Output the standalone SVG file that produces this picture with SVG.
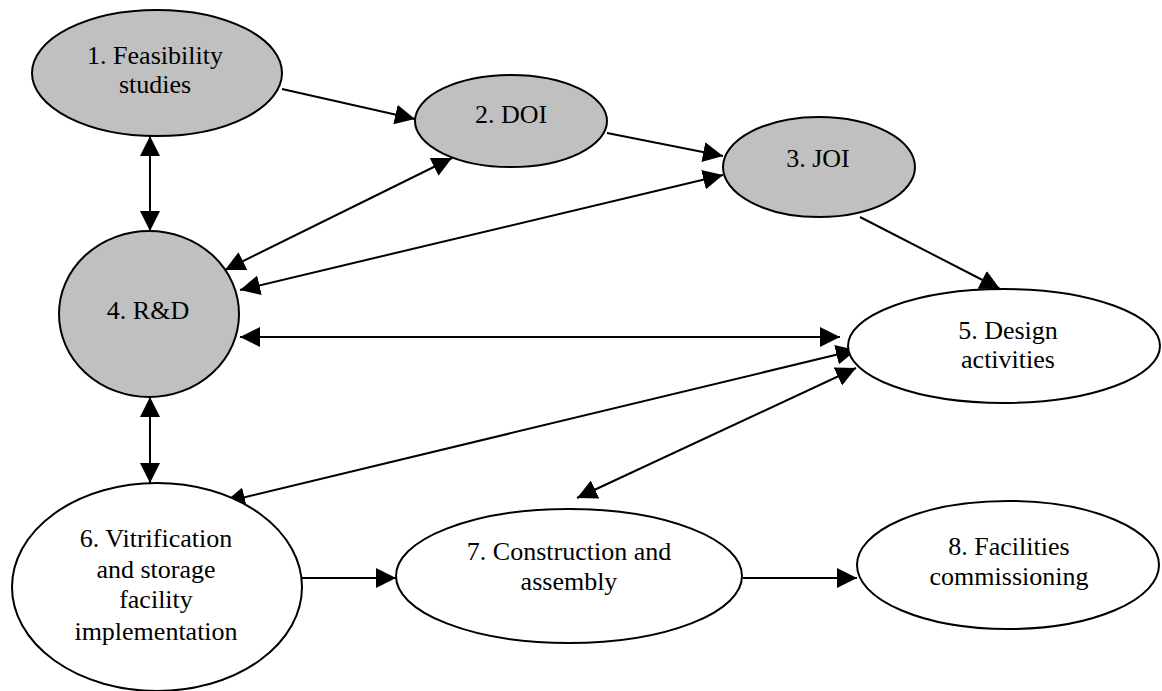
<svg xmlns="http://www.w3.org/2000/svg" width="1162" height="691" viewBox="0 0 1162 691">
<defs>
<marker id="ah" markerUnits="userSpaceOnUse" markerWidth="20" markerHeight="20" refX="20" refY="10" orient="auto-start-reverse" viewBox="0 0 20 20">
<path d="M0,0 L20,10 L0,20 z" fill="#000"/>
</marker>
<style>
.n ellipse{stroke:#000;stroke-width:2}
.g{fill:#c0c0c0}
.w{fill:#fff}
.n text{font-family:'Liberation Serif','Times New Roman',serif;font-size:26px;fill:#000;text-anchor:middle}
.c line{stroke:#000;stroke-width:2;fill:none}
.e{marker-end:url(#ah)}
.b{marker-start:url(#ah);marker-end:url(#ah)}
</style>
</defs>
<rect width="1162" height="691" fill="#fff"/>
<g class="c" id="connectors">
<line class="e" x1="282" y1="89" x2="415" y2="119"/>
<line class="e" x1="607" y1="133" x2="723" y2="156"/>
<line class="b" x1="150" y1="136" x2="150" y2="231"/>
<line class="b" x1="452" y1="158" x2="225" y2="270"/>
<line class="b" x1="723" y1="175" x2="240" y2="290"/>
<line class="e" x1="860" y1="217" x2="1000" y2="289"/>
<line class="b" x1="240" y1="337" x2="840" y2="337"/>
<line class="b" x1="856" y1="350" x2="225" y2="502"/>
<line class="b" x1="856" y1="368" x2="577" y2="498"/>
<line class="b" x1="150" y1="397" x2="150" y2="483"/>
<line class="e" x1="302" y1="578" x2="396" y2="578"/>
<line class="e" x1="743" y1="578" x2="857" y2="578"/>
</g>
<g class="n" id="node1" font-family="Liberation Serif, serif"><ellipse class="g" cx="157" cy="73" rx="125" ry="63"/><text x="155" y="64">1. Feasibility</text><text x="155" y="93">studies</text></g>
<g class="n" id="node2" font-family="Liberation Serif, serif"><ellipse class="g" cx="511" cy="121" rx="96" ry="46"/><text x="511" y="123">2. DOI</text></g>
<g class="n" id="node3" font-family="Liberation Serif, serif"><ellipse class="g" cx="819" cy="167" rx="96" ry="50"/><text x="818" y="167">3. JOI</text></g>
<g class="n" id="node4" font-family="Liberation Serif, serif"><ellipse class="g" cx="149" cy="314" rx="90" ry="83"/><text x="148" y="319">4. R&amp;D</text></g>
<g class="n" id="node5" font-family="Liberation Serif, serif"><ellipse class="w" cx="1004" cy="346" rx="156" ry="57"/><text x="1008" y="339">5. Design</text><text x="1008" y="368">activities</text></g>
<g class="n" id="node6" font-family="Liberation Serif, serif"><ellipse class="w" cx="157" cy="587" rx="145" ry="104"/><text x="156" y="547">6. Vitrification</text><text x="156" y="578">and storage</text><text x="156" y="608">facility</text><text x="156" y="640">implementation</text></g>
<g class="n" id="node7" font-family="Liberation Serif, serif"><ellipse class="w" cx="569" cy="576" rx="173" ry="67"/><text x="569" y="560">7. Construction and</text><text x="569" y="590">assembly</text></g>
<g class="n" id="node8" font-family="Liberation Serif, serif"><ellipse class="w" cx="1008" cy="565" rx="151" ry="64"/><text x="1009" y="555">8. Facilities</text><text x="1009" y="585">commissioning</text></g>
</svg>
